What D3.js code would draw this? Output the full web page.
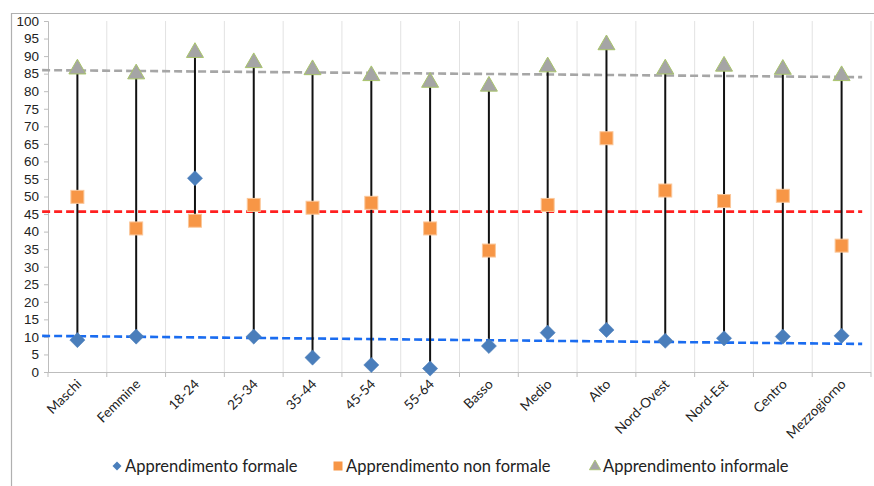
<!DOCTYPE html>
<html>
<head>
<meta charset="utf-8">
<script src="https://cdn.jsdelivr.net/npm/d3@7"></script>
<style>
  html, body { margin: 0; padding: 0; background: #fff; }
  svg { display: block; font-family: Lato, "Open Sans", sans-serif; }
</style>
</head>
<body>
<svg id="chart" width="874" height="486"></svg>
<script>
// ---- data ----
const categories = ["Maschi","Femmine","18-24","25-34","35-44","45-54","55-64","Basso","Medio","Alto","Nord-Ovest","Nord-Est","Centro","Mezzogiorno"];
const formale    = [9.1, 10.1, 55.2, 10.1, 4.1, 2.0, 1.0, 7.4, 11.2, 12.0, 8.9, 9.6, 10.1, 10.3];
const nonFormale = [49.9, 40.9, 43.1, 47.6, 46.8, 48.2, 40.9, 34.6, 47.6, 66.6, 51.7, 48.7, 50.2, 36.0];
const informale  = [86.6, 85.2, 91.3, 88.4, 86.4, 84.7, 82.8, 81.7, 87.2, 93.5, 86.6, 87.4, 86.5, 84.7];
const yTicks = d3.range(0, 101, 5);
// dashed reference lines: value at start and at end
const refFormale    = [10.3, 8.0];
const refNonFormale = [45.7, 45.7];
const refInformale  = [86.0, 84.0];
const seriesNames = ["Apprendimento formale","Apprendimento non formale","Apprendimento informale"];

// ---- layout ----
const svg = d3.select("#chart");
const m = {left: 48, right: 871, top: 21, bottom: 372};

const x = d3.scaleBand().domain(categories).range([m.left, m.right]).padding(0);
const y = d3.scaleLinear().domain([0, 100]).range([m.bottom, m.top]);
const xi = d3.scaleLinear().domain([0, categories.length - 1])
  .range([x(categories[0]) + x.bandwidth()/2, x(categories[categories.length-1]) + x.bandwidth()/2]);

// chart frame
svg.append("path")
  .attr("d", "M11.5,486 L11.5,13.5 L874,13.5")
  .attr("fill", "none").attr("stroke", "#b0b0b0").attr("stroke-width", 1.2);

// vertical gridlines at band boundaries
const bounds = categories.map(c => x(c) + x.bandwidth());
svg.append("g").selectAll("line").data(bounds).join("line")
  .attr("x1", d => d).attr("x2", d => d)
  .attr("y1", y(100)).attr("y2", y(0))
  .attr("stroke", "#e2e2e2").attr("stroke-width", 1);

// y axis
const yAxis = svg.append("g").attr("transform", `translate(${m.left},0)`)
  .call(d3.axisLeft(y).tickValues(yTicks).tickSize(4).tickPadding(5));
yAxis.select(".domain").attr("stroke", "#bdbdbd");
yAxis.selectAll(".tick line").attr("stroke", "#bdbdbd");
yAxis.selectAll("text").attr("font-size", 13.5).attr("fill", "#222");

// x axis
const xAxisG = svg.append("g").attr("transform", `translate(0,${m.bottom})`);
xAxisG.append("line").attr("x1", m.left).attr("x2", m.right).attr("y1", 0.5).attr("y2", 0.5)
  .attr("stroke", "#bdbdbd");
xAxisG.selectAll("line.tk").data([m.left].concat(bounds)).join("line").attr("class","tk")
  .attr("x1", d => d).attr("x2", d => d).attr("y1", 0).attr("y2", 5)
  .attr("stroke", "#bdbdbd");
xAxisG.selectAll("text").data(categories).join("text")
  .attr("transform", d => `translate(${x(d) + x.bandwidth()/2 + 5},${13}) rotate(-45)`)
  .attr("text-anchor", "end")
  .attr("font-size", 13.5).attr("fill", "#222")
  .text(d => d);

// reference dashed lines
const refs = [
  {v: refInformale, color: "#a6a6a6"},
  {v: refNonFormale, color: "#ff2020"},
  {v: refFormale, color: "#1a6cf0"}
];
const i0 = -0.6, i1 = 13.35;
svg.append("g").selectAll("line").data(refs).join("line")
  .attr("x1", xi(i0)).attr("x2", xi(i1))
  .attr("y1", d => y(d.v[0])).attr("y2", d => y(d.v[1]))
  .attr("stroke", d => d.color).attr("stroke-width", 2.6)
  .attr("stroke-dasharray", "8,4");

// high-low lines
const cx = c => x(c) + x.bandwidth()/2;
svg.append("g").selectAll("line").data(categories).join("line")
  .attr("x1", cx).attr("x2", cx)
  .attr("y1", (d,i) => y(Math.max(formale[i], nonFormale[i], informale[i])))
  .attr("y2", (d,i) => y(Math.min(formale[i], nonFormale[i], informale[i])))
  .attr("stroke", "#111").attr("stroke-width", 2);

// markers
const diamond = d3.symbol().type(d3.symbolSquare).size(115);
const triangle = d3.symbol().type(d3.symbolTriangle).size(125);

svg.append("g").selectAll("path").data(categories).join("path")
  .attr("d", diamond())
  .attr("transform", (d,i) => `translate(${cx(d)},${y(formale[i])}) rotate(45)`)
  .attr("fill", "#4a7ebb").attr("stroke", "#4a7ebb").attr("stroke-width", 0.5);

svg.append("g").selectAll("rect").data(categories).join("rect")
  .attr("x", d => cx(d) - 6.5).attr("y", (d,i) => y(nonFormale[i]) - 6.5)
  .attr("width", 13).attr("height", 13)
  .attr("fill", "#f79646").attr("stroke", "#fbc79a").attr("stroke-width", 1);

svg.append("g").selectAll("path").data(categories).join("path")
  .attr("d", triangle())
  .attr("transform", (d,i) => `translate(${cx(d)},${y(informale[i]) + 1})`)
  .attr("fill", "#a5a5a5").attr("stroke", "#a8c46a").attr("stroke-width", 1);

// legend
const leg = svg.append("g").attr("transform", "translate(0,466)");
const legX = [117, 338, 595];
leg.append("path").attr("d", d3.symbol().type(d3.symbolSquare).size(40)())
  .attr("transform", `translate(${legX[0]},0) rotate(45)`).attr("fill", "#4a7ebb");
leg.append("rect").attr("x", legX[1]-4.5).attr("y", -4.5).attr("width", 9).attr("height", 9).attr("fill", "#f79646");
leg.append("path").attr("d", d3.symbol().type(d3.symbolTriangle).size(55)())
  .attr("transform", `translate(${legX[2]},0.5)`).attr("fill", "#a5a5a5").attr("stroke", "#a8c46a").attr("stroke-width", 0.8);
leg.selectAll("text").data(seriesNames).join("text")
  .attr("x", (d,i) => legX[i] + 8).attr("y", 5.5)
  .attr("font-size", 16.5).attr("fill", "#222")
  .text(d => d);
</script>
</body>
</html>
